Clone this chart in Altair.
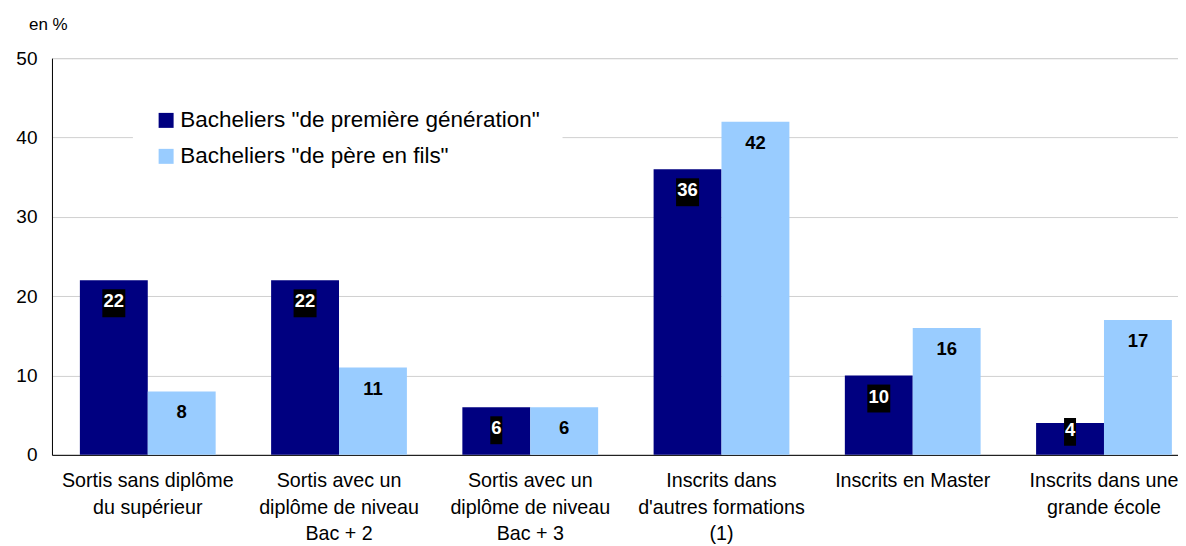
import altair as alt
import pandas as pd

categories = [
    "Sortis sans diplôme\ndu supérieur",
    "Sortis avec un\ndiplôme de niveau\nBac + 2",
    "Sortis avec un\ndiplôme de niveau\nBac + 3",
    "Inscrits dans\nd'autres formations\n(1)",
    "Inscrits en Master",
    "Inscrits dans une\ngrande école",
]
series = ['Bacheliers "de première génération"', 'Bacheliers "de père en fils"']
first_gen = [22, 22, 6, 36, 10, 4]
pere_fils = [8, 11, 6, 42, 16, 17]
colors = ["#000080", "#99CCFF"]

rows = []
for c, a, b in zip(categories, first_gen, pere_fils):
    rows.append({"cat": c, "serie": series[0], "v": a})
    rows.append({"cat": c, "serie": series[1], "v": b})
df = pd.DataFrame(rows)

FONT = "Liberation Sans"

x_enc = alt.X(
    "cat:N",
    sort=categories,
    scale=alt.Scale(paddingInner=0.29, paddingOuter=0.089, align=0.82),
    axis=alt.Axis(
        title=None,
        labelExpr="split(datum.label, '\\n')",
        labelFontSize=19.7,
        labelFont=FONT,
        labelColor="black",
        labelLineHeight=26.5,
        labelPadding=16,
        labelAngle=0,
        labelOverlap=False,
        labelLimit=0,
        ticks=False,
        domainColor="black",
        domainWidth=1,
        grid=False,
        labelBaseline="top",
    ),
)
xo_enc = alt.XOffset("serie:N", sort=series, scale=alt.Scale(paddingInner=0, paddingOuter=0))

base = alt.Chart(df).transform_calculate(
    ty="max(datum.v - 2.65, 3.15)",
).transform_calculate(
    by1="datum.ty - 0.25 + 1.76",
    by2="datum.ty - 0.25 - 1.76",
    nd="length(toString(datum.v))",
)

bars = base.mark_bar().encode(
    x=x_enc,
    xOffset=xo_enc,
    y=alt.Y(
        "v:Q",
        scale=alt.Scale(domain=[0, 50], nice=False),
        axis=alt.Axis(
            title=None,
            values=[0, 10, 20, 30, 40, 50],
            labelFontSize=19,
            labelFont=FONT,
            labelColor="black",
            labelPadding=15,
            ticks=False,
            domainColor="black",
            gridColor="#d0d0d0",
            gridWidth=1,
        ),
    ),
    color=alt.Color(
        "serie:N",
        sort=series,
        scale=alt.Scale(domain=series, range=colors),
        legend=alt.Legend(
            title=None,
            orient="none",
            legendX=81,
            legendY=29,
            symbolType="square",
            symbolSize=225,
            symbolStrokeWidth=0,
            labelFontSize=22.5,
            labelFont=FONT,
            labelColor="black",
            labelOffset=3,
            rowPadding=13,
            padding=22,
            fillColor="white",
            labelLimit=0,
        ),
    ),
)

box2 = base.transform_filter("datum.serie == '%s' && datum.nd >= 2" % series[0].replace('"', '\\"')).mark_bar(
    width=23, color="black"
).encode(x=x_enc, xOffset=xo_enc, y="by1:Q", y2="by2:Q")

box1 = base.transform_filter("datum.serie == '%s' && datum.nd < 2" % series[0].replace('"', '\\"')).mark_bar(
    width=12, color="black"
).encode(x=x_enc, xOffset=xo_enc, y="by1:Q", y2="by2:Q")

texts = base.mark_text(
    font=FONT, fontSize=18.5, fontWeight="bold", baseline="middle", align="center"
).encode(
    x=x_enc,
    xOffset=xo_enc,
    y="ty:Q",
    text="v:Q",
    color=alt.condition(
        alt.datum.serie == series[0], alt.value("white"), alt.value("black")
    ),
)

chart = (
    alt.layer(bars, box2, box1, texts)
    .properties(
        width=1127,
        height=397,
        padding={"left": 7, "top": 8, "right": 0, "bottom": 0},
        title=alt.TitleParams(
            "en %",
            anchor="start",
            frame="group",
            dx=-23,
            dy=8,
            offset=23,
            fontSize=17,
            fontWeight="normal",
            font=FONT,
            color="black",
        ),
    )
    .configure_view(stroke=None)
    .configure(background="white")
)

chart.save("out.html", embed_options={"renderer": "svg", "actions": False})
